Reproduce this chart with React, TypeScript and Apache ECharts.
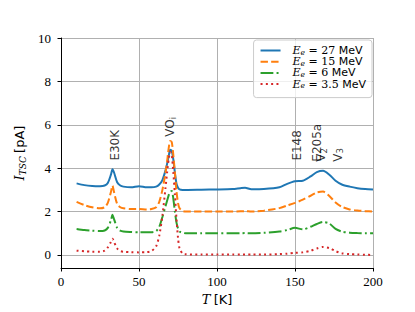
import React, { useEffect, useRef } from "react";
import * as echarts from "echarts";

// Temperature samples [K]
const temps = [10, 15, 20, 25, 28, 30, 32, 33, 34, 36, 38, 40, 45, 50, 55, 58, 61, 63, 65, 67, 68, 69, 70, 71, 72, 73, 74, 75, 76, 78, 80, 90, 100, 110, 115, 118, 122, 130, 140, 145, 150, 155, 160, 164, 168, 172, 176, 180, 185, 190, 195, 200];

// I_TSC [pA] for each electron energy
const current27 = [3.30, 3.22, 3.18, 3.17, 3.20, 3.32, 3.70, 3.95, 3.80, 3.35, 3.20, 3.15, 3.12, 3.17, 3.12, 3.12, 3.15, 3.25, 3.45, 3.90, 4.20, 4.55, 4.85, 4.80, 4.40, 3.80, 3.30, 3.10, 3.02, 3.00, 3.00, 3.01, 3.02, 3.04, 3.08, 3.10, 3.03, 3.04, 3.12, 3.28, 3.40, 3.42, 3.62, 3.82, 3.88, 3.70, 3.42, 3.25, 3.15, 3.08, 3.04, 3.02];
const current15 = [2.45, 2.30, 2.20, 2.15, 2.20, 2.40, 2.90, 3.20, 2.90, 2.35, 2.20, 2.15, 2.12, 2.12, 2.10, 2.12, 2.20, 2.45, 3.00, 3.80, 4.30, 4.90, 5.25, 5.20, 4.60, 3.80, 2.95, 2.40, 2.15, 2.03, 2.00, 2.00, 2.00, 2.00, 2.01, 2.02, 2.00, 2.04, 2.16, 2.28, 2.40, 2.55, 2.73, 2.88, 2.92, 2.72, 2.42, 2.22, 2.10, 2.05, 2.02, 2.00];
const current6 = [1.20, 1.15, 1.12, 1.10, 1.13, 1.25, 1.60, 1.85, 1.65, 1.25, 1.12, 1.08, 1.06, 1.05, 1.05, 1.05, 1.10, 1.30, 1.75, 2.25, 2.50, 2.75, 2.92, 2.95, 2.60, 2.00, 1.50, 1.22, 1.08, 1.02, 1.00, 1.00, 1.00, 1.00, 1.00, 1.01, 1.00, 1.02, 1.08, 1.15, 1.25, 1.18, 1.30, 1.43, 1.52, 1.45, 1.20, 1.08, 1.03, 1.01, 1.00, 1.00];
const current35 = [0.20, 0.17, 0.15, 0.15, 0.20, 0.35, 0.60, 0.75, 0.60, 0.30, 0.18, 0.15, 0.13, 0.12, 0.13, 0.18, 0.40, 0.90, 1.80, 3.10, 3.80, 4.40, 4.75, 4.60, 3.80, 2.80, 1.70, 0.80, 0.30, 0.06, 0.03, 0.02, 0.02, 0.02, 0.02, 0.02, 0.02, 0.02, 0.04, 0.06, 0.10, 0.12, 0.20, 0.30, 0.37, 0.32, 0.18, 0.08, 0.04, 0.02, 0.01, 0.00];

const energies = ["27", "15", "6", "3.5"];
const seriesValues = [current27, current15, current6, current35];
const colors = ["#1f77b4", "#ff7f0e", "#2ca02c", "#d62728"];
const dashes: any[] = ["solid", [7.4, 3.2], [12.8, 3.2, 2, 3.2], [2, 3.3]];

// Annotations (defect labels)
const annotNames = ["E30K", "VO_i", "E148", "E205a", "V_2", "V_3"];
const annotT = [34.5, 70, 151.5, 164, 166.8, 177.5];
const annotY = [4.35, 5.45, 4.35, 4.3, 4.3, 4.3];

const xTicks = [0, 50, 100, 150, 200];
const yTicks = [0, 2, 4, 6, 8, 10];

const SERIF = "DejaVu Serif";
const SANS = "DejaVu Sans";
const TICKFONT = "Liberation Serif";

function seriesName(e: string) {
  return `E_e = ${e} MeV`;
}

export default function App() {
  const ref = useRef<HTMLDivElement>(null);
  useEffect(() => {
    if (!ref.current) return;
    const chart = echarts.init(ref.current, undefined, { renderer: "svg" });

    const lineSeries = energies.map((e, k) => ({
      name: seriesName(e),
      type: "line",
      data: temps.map((t, i) => [t, seriesValues[k][i]]),
      showSymbol: false,
      symbol: "none",
      smooth: 0.25,
      lineStyle: { color: colors[k], width: 2, type: dashes[k], cap: "butt" },
      itemStyle: { color: colors[k] },
      silent: true,
      z: 3 + k,
    }));

    const annotSeries = {
      name: "annotations",
      type: "scatter",
      symbol: "circle",
      symbolSize: 0,
      silent: true,
      z: 10,
      data: annotNames.map((n, i) => ({
        value: [annotT[i], annotY[i]],
        label: {
          show: true,
          position: [0, 0],
          rotate: 90,
          align: "left",
          verticalAlign: "middle",
          formatter: n.includes("_")
            ? `{a|${n.split("_")[0]}}{s|${n.split("_")[1]}}`
            : `{a|${n}}`,
          rich: {
            a: { fontFamily: SANS, fontSize: 12, lineHeight: 14, color: "#000" },
            s: { fontFamily: SANS, fontSize: 8.5, lineHeight: 7, verticalAlign: "bottom", color: "#000" },
          },
        },
      })),
    };

    const option: any = {
      animation: false,
      backgroundColor: "#fff",
      grid: { left: 61, right: 42, top: 38, bottom: 44, containLabel: false, outerBoundsMode: "none" },
      legend: {
        data: energies.map((e, k) => ({
          name: seriesName(e),
          lineStyle: { type: dashes[k], width: 2, color: colors[k], cap: "butt" },
        })),
        orient: "vertical",
        right: 43,
        top: 40,
        padding: [5, 6, 8, 6],
        itemGap: 0.2,
        itemWidth: 20,
        itemHeight: 11,
        borderColor: "#cccccc",
        borderWidth: 1,
        borderRadius: 3,
        backgroundColor: "rgba(255,255,255,0.8)",
        itemStyle: { opacity: 0 },
        formatter: (name: string) => {
          const e = name.replace("E_e = ", "").replace(" MeV", "");
          return `{e|E}{s|e}{m| = ${e}}{t| MeV}`;
        },
        textStyle: {
          color: "#000",
          lineHeight: 11,
          rich: {
            e: { fontFamily: SERIF, fontStyle: "italic", fontSize: 11, lineHeight: 11, padding: [0, 0, 0, 7], color: "#000" },
            s: { fontFamily: SERIF, fontStyle: "italic", fontSize: 7.5, lineHeight: 6, verticalAlign: "bottom", color: "#000" },
            m: { fontFamily: SERIF, fontSize: 11, lineHeight: 11, color: "#000" },
            t: { fontFamily: SANS, fontSize: 11, lineHeight: 11, color: "#000" },
          },
        },
      },
      xAxis: {
        type: "value",
        min: 0,
        max: 200,
        interval: 50,
        name: "{i|T} {t|[K]}",
        nameLocation: "middle",
        nameGap: 21,
        nameTextStyle: {
          rich: {
            i: { fontFamily: SERIF, fontStyle: "italic", fontSize: 13, color: "#000" },
            t: { fontFamily: SANS, fontSize: 13, color: "#000" },
          },
        },
        axisLine: { show: true, onZero: false, lineStyle: { color: "#000", width: 1 } },
        axisTick: { show: true, inside: false, length: 3.5, lineStyle: { color: "#000", width: 1 } },
        axisLabel: { show: true, margin: 7, fontFamily: TICKFONT, fontSize: 13, color: "#000", customValues: xTicks },
        splitLine: { show: true, lineStyle: { color: "#b0b0b0", width: 1 } },
      },
      yAxis: {
        type: "value",
        min: -0.6,
        max: 10,
        name: "{i|I}{s|TSC} {t|[pA]}",
        nameLocation: "middle",
        nameGap: 29,
        nameRotate: 90,
        nameTextStyle: {
          rich: {
            i: { fontFamily: SERIF, fontStyle: "italic", fontSize: 13, lineHeight: 16, color: "#000" },
            s: { fontFamily: SERIF, fontStyle: "italic", fontSize: 9, lineHeight: 8, verticalAlign: "bottom", color: "#000" },
            t: { fontFamily: SANS, fontSize: 13, lineHeight: 16, color: "#000" },
          },
        },
        axisLine: { show: true, lineStyle: { color: "#000", width: 1 } },
        axisTick: { show: true, inside: false, length: 3.5, lineStyle: { color: "#000", width: 1 }, customValues: yTicks },
        axisLabel: { show: true, margin: 10, fontFamily: TICKFONT, fontSize: 13, color: "#000", customValues: yTicks },
        splitLine: { show: true, lineStyle: { color: "#b0b0b0", width: 1 }, customValues: yTicks },
      },
      series: [...lineSeries, annotSeries],
    };
    chart.setOption(option);
    return () => chart.dispose();
  }, []);
  return (
    <div
      ref={ref}
      style={{ position: "absolute", left: 0, top: 0, width: 415, height: 312, background: "#fff" }}
    />
  );
}
